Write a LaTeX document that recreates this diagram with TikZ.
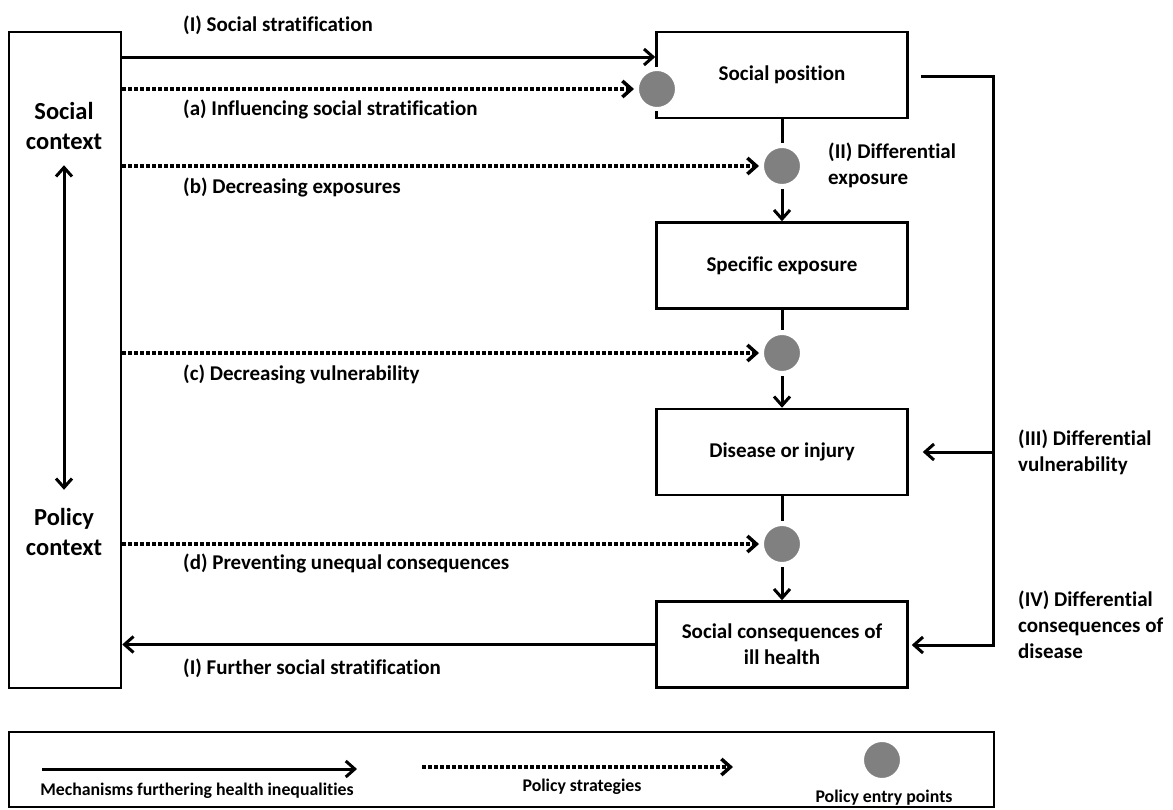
\documentclass[tikz,border=0pt]{standalone}
\usepackage{fontspec}
\setmainfont{Carlito}[Ligatures=NoCommon]
\usetikzlibrary{arrows.meta,positioning}
\definecolor{SHgrey}{RGB}{128,128,128}

\begin{document}
\begin{tikzpicture}[
    x=1pt, y=-1pt,
    box/.style={draw,line width=2.5pt,minimum width=251pt,minimum height=86pt,align=center,font=\fontsize{21}{26}\selectfont\bfseries},
    lbl/.style={anchor=west,align=left,inner sep=0pt,font=\fontsize{21}{26}\selectfont\bfseries},
    ctxt/.style={align=center,font=\fontsize{24.5}{30}\selectfont\bfseries},
    legtxt/.style={inner sep=0pt,font=\fontsize{17.8}{22}\selectfont\bfseries},
    entry/.style={circle,fill=SHgrey,draw=white,line width=4pt,minimum size=40pt,inner sep=0pt,outer sep=3pt},
    ln/.style={line width=3pt},
    arr/.style={-{Straight Barb[length=9pt,width=16pt]},line width=3pt},
    strat/.style={arr,line width=3.5pt,dash pattern=on 3.5pt off 2.5pt},
    twoway/.style={arrows={Straight Barb[length=9pt,width=16pt]-Straight Barb[length=9pt,width=16pt]},line width=3pt}
  ]
  \useasboundingbox (0,0) rectangle (1173,809);

  % context column
  \node[draw,line width=2.5pt,minimum width=112pt,minimum height=656pt] (ctx) at (65,360) {};
  \node[ctxt] (soc) at (64,126) {Social\\context};
  \node[ctxt] (plc) at (64,532) {Policy\\context};
  \draw[twoway,shorten <=12pt,shorten >=15pt] (soc) -- (plc);

  % pathway boxes
  \node[box] (pos) at (782,75) {Social position};
  \node[box] (exp) at (782,265.5) {Specific exposure};
  \node[box] (dis) at (782,452) {Disease or injury};
  \node[box] (cons) at (782,644.5) {Social consequences of\\ill health};

  % policy entry points
  \node[entry] (pa) at (657,89) {};
  \node[entry] (pb) at (782,166) {};
  \node[entry] (pc) at (782,353) {};
  \node[entry] (pd) at (782,544) {};

  % labels
  \node[lbl] (l1) at (183,25) {(I) Social stratification};
  \node[lbl] (la) at (183,109) {(a) Influencing social stratification};
  \node[lbl] (lb) at (183,187) {(b) Decreasing exposures};
  \node[lbl] (lc) at (183,374) {(c) Decreasing vulnerability};
  \node[lbl] (ld) at (183,563) {(d) Preventing unequal consequences};
  \node[lbl] (l5) at (183,668) {(I) Further social stratification};
  \node[lbl] (l2) at (828,165.5) {(II) Differential\\exposure};
  \node[lbl] (l3) at (1018,452) {(III) Differential\\vulnerability};
  \node[lbl] (l4) at (1018,625) {(IV) Differential\\consequences of\\disease};

  % mechanisms
  \draw[arr] (ctx.east |- 0,57) -- (pos.west |- 0,57);
  \draw[arr] (cons.west) -- (ctx.east |- cons.west);
  \draw[ln] (pos) -- (pb);
  \draw[arr] (pb) -- (exp);
  \draw[ln] (exp) -- (pc);
  \draw[arr] (pc) -- (dis);
  \draw[ln] (dis) -- (pd);
  \draw[arr] (pd) -- (cons);
  \coordinate (rt) at (993,76);
  \coordinate (rb) at (993,645);
  \draw[arr] ([xshift=12pt]pos.east |- rt) -- (rt) -- (rb) -- ([xshift=3pt]cons.east |- rb);
  \draw[arr] (rt |- dis) -- ([xshift=14pt]dis.east);

  % policy strategies
  \draw[strat] (ctx.east |- pa) -- (pa);
  \draw[strat] (ctx.east |- pb) -- (pb);
  \draw[strat] (ctx.east |- pc) -- (pc);
  \draw[strat] (ctx.east |- pd) -- (pd);

  % legend
  \node[draw,line width=2.5pt,minimum width=985pt,minimum height=75pt] (leg) at (501.5,769.5) {};
  \coordinate (m0) at (42,769);
  \coordinate (m1) at (357,769);
  \draw[arr] (m0) -- (m1);
  \node[legtxt] (mtx) at (197,791) {Mechanisms furthering health inequalities};
  \coordinate (s0) at (422,767);
  \coordinate (s1) at (733,767);
  \draw[strat] (s0) -- (s1);
  \node[legtxt] (stx) at (582,787) {Policy strategies};
  \node[entry] (pe) at (882,760) {};
  \node[legtxt] (etx) at (884,798) {Policy entry points};
\end{tikzpicture}
\end{document}
